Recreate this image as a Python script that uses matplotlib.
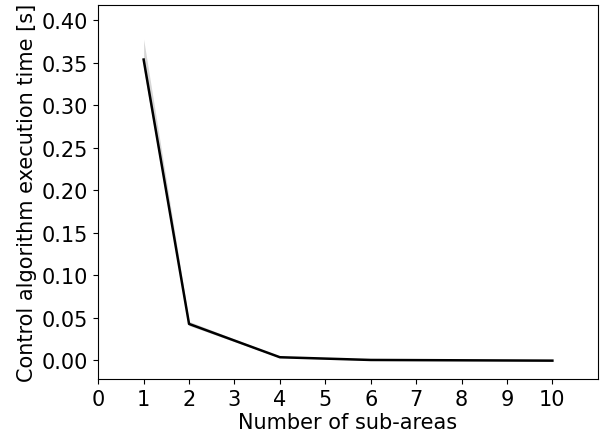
import matplotlib
matplotlib.use('Agg')
import matplotlib.pyplot as plt

# number of sub-areas vs mean execution time (with spread)
n_areas = [1, 2, 4, 6, 8, 10]
exec_mean = [0.354, 0.043, 0.0038, 0.0006, 0.0002, -0.0002]
exec_low = [0.343, 0.041, 0.0033, 0.0004, 0.0001, -0.0003]
exec_high = [0.378, 0.046, 0.0045, 0.0008, 0.0003, -0.0001]

plt.rcParams['font.size'] = 15

fig, ax = plt.subplots(figsize=(6.1, 4.39), dpi=100)
ax.fill_between(n_areas, exec_low, exec_high, color='#cccccc', alpha=0.8, linewidth=0)
ax.plot(n_areas, exec_mean, color='black', linewidth=1.8)

ax.set_xlim(0, 11)
ax.set_ylim(-0.022, 0.418)
ax.set_xticks(range(0, 11))
ax.set_yticks([0.0, 0.05, 0.10, 0.15, 0.20, 0.25, 0.30, 0.35, 0.40])
ax.set_yticklabels(['%.2f' % v for v in ax.get_yticks()])
ax.set_xlabel('Number of sub-areas', labelpad=2)
ax.set_ylabel('Control algorithm execution time [s]', labelpad=4)

fig.subplots_adjust(left=0.161, right=0.98, top=0.986, bottom=0.134)
fig.savefig('out.png')
plt.close(fig)
